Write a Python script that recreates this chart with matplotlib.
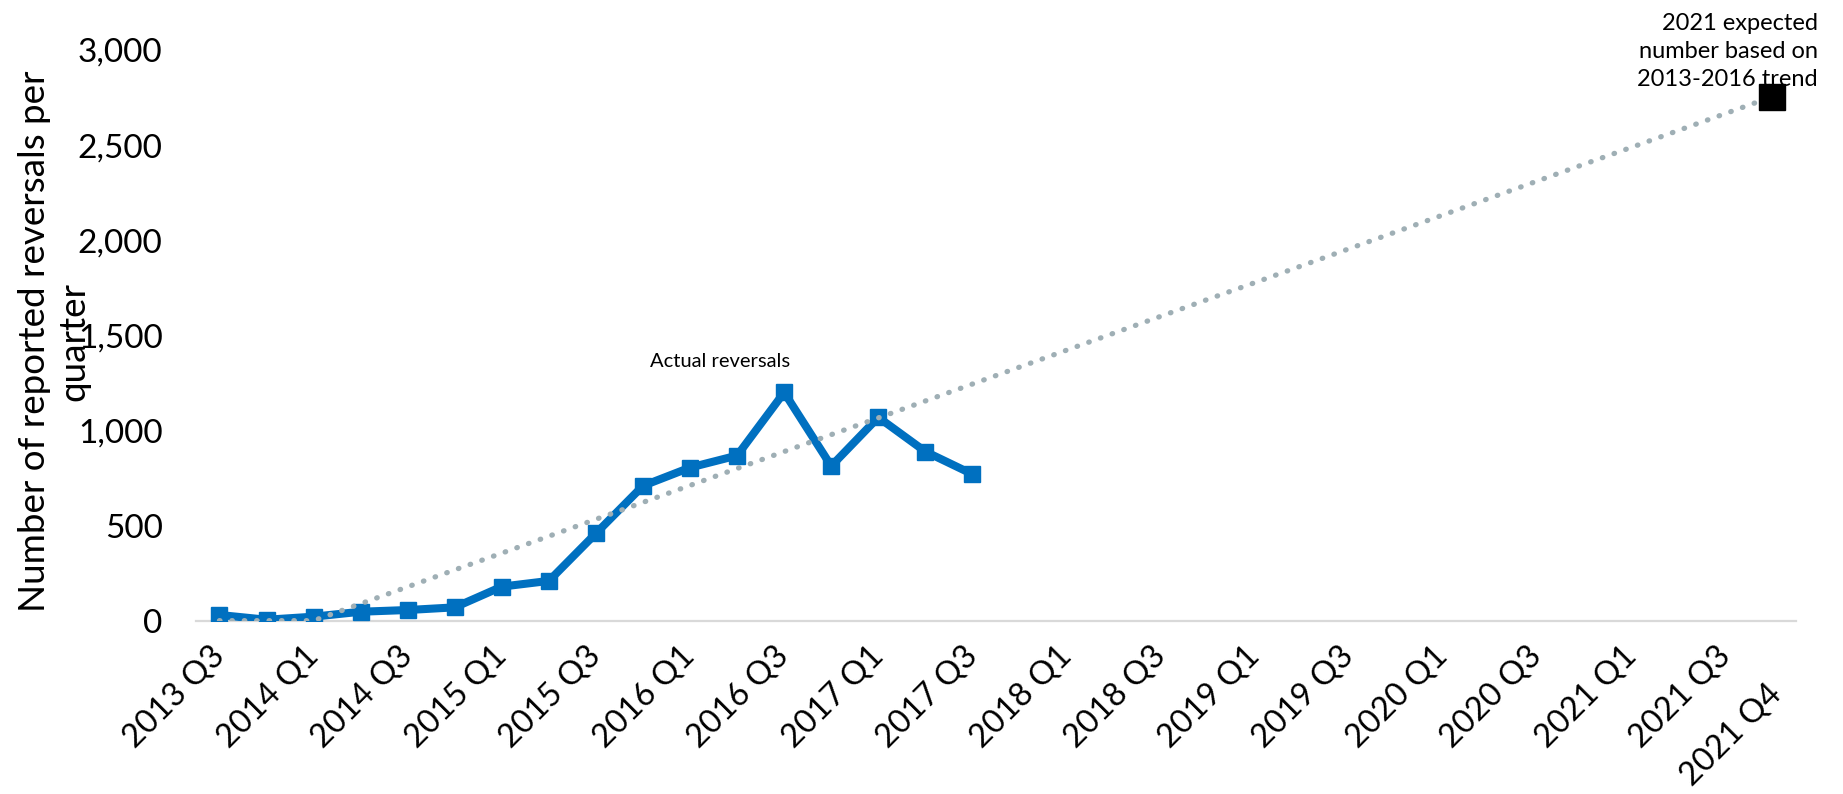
"""Reported reversals per quarter vs. 2013-2016 linear trend."""
import numpy as np
import matplotlib
matplotlib.use('Agg')
import matplotlib.pyplot as plt
from matplotlib.transforms import ScaledTranslation

plt.rcParams['font.family'] = ['Lato', 'DejaVu Sans']

quarters = [
    '2013 Q3', '2013 Q4',
    '2014 Q1', '2014 Q2', '2014 Q3', '2014 Q4',
    '2015 Q1', '2015 Q2', '2015 Q3', '2015 Q4',
    '2016 Q1', '2016 Q2', '2016 Q3', '2016 Q4',
    '2017 Q1', '2017 Q2', '2017 Q3', '2017 Q4',
    '2018 Q1', '2018 Q2', '2018 Q3', '2018 Q4',
    '2019 Q1', '2019 Q2', '2019 Q3', '2019 Q4',
    '2020 Q1', '2020 Q2', '2020 Q3', '2020 Q4',
    '2021 Q1', '2021 Q2', '2021 Q3', '2021 Q4',
]
actual = [30, 5, 21, 47, 56, 70, 179, 209, 459, 709, 805, 868,
          1200, 813, 1069, 889, 770]
trend = [0, 0, 0, 89, 178, 267, 355, 444, 533, 622, 711, 800,
         889, 978, 1066, 1155, 1244, 1333, 1422, 1511, 1600, 1689,
         1777, 1866, 1955, 2044, 2133, 2222, 2311, 2400, 2488, 2577,
         2666, 2755]
expected_2021 = 2755
shown_labels = ['2013 Q3', '2014 Q1', '2014 Q3', '2015 Q1', '2015 Q3',
                '2016 Q1', '2016 Q3', '2017 Q1', '2017 Q3', '2018 Q1',
                '2018 Q3', '2019 Q1', '2019 Q3', '2020 Q1', '2020 Q3',
                '2021 Q1', '2021 Q3', '2021 Q4']
y_ticks = [0, 500, 1000, 1500, 2000, 2500, 3000]

fig = plt.figure(figsize=(18.43, 7.94), dpi=100)
ax = fig.add_axes([0.1063, 0.2183, 0.8682, 0.7187])

x = np.arange(len(quarters))
ax.plot(x[:len(actual)], actual, color='#0070C0', linewidth=5.8,
        marker='s', markersize=12, zorder=3)
ax.plot(x, trend, color='#9FAFB5', linewidth=3.8,
        linestyle=(0, (0.1, 2.25)), dash_capstyle='round', zorder=4)
ax.plot([x[-1]], [expected_2021], marker='s', markersize=19,
        color='black', linestyle='none', zorder=5)

ax.set_xlim(-0.5, len(quarters) - 0.5)
ax.set_ylim(0, 3000)

for side in ['top', 'right', 'left']:
    ax.spines[side].set_visible(False)
ax.spines['bottom'].set_color('#D9D9D9')
ax.spines['bottom'].set_linewidth(1.6)

ax.set_yticks(y_ticks)
ax.set_yticklabels([f'{v:,}' for v in y_ticks])
ax.tick_params(axis='y', length=0, pad=24, labelsize=24)

ax.set_xticks([quarters.index(q) for q in shown_labels])
ax.set_xticklabels(shown_labels)
ax.tick_params(axis='x', length=0, pad=22, labelsize=23.5)
for lbl in ax.get_xticklabels():
    lbl.set_rotation(45)
    lbl.set_rotation_mode('anchor')
    lbl.set_ha('right')
    lbl.set_va('center')
# last label sits lower so it clears its neighbour
last = ax.get_xticklabels()[-1]
last.set_transform(last.get_transform()
                   + ScaledTranslation(0.04, -0.38, fig.dpi_scale_trans))

ax.set_ylabel('Number of reported reversals per\nquarter', fontsize=26.5,
              linespacing=1.25)
ax.yaxis.set_label_coords(-0.066, 0.49)

ax.text(10.64, 1365, 'Actual reversals', fontsize=14.5,
        ha='center', va='center')
fig.text(1818 / 1843, 1 - 13 / 794,
         '2021 expected\nnumber based on\n2013-2016 trend',
         fontsize=17, ha='right', va='top', multialignment='right',
         linespacing=1.4)

fig.savefig('out.png', dpi=100)
